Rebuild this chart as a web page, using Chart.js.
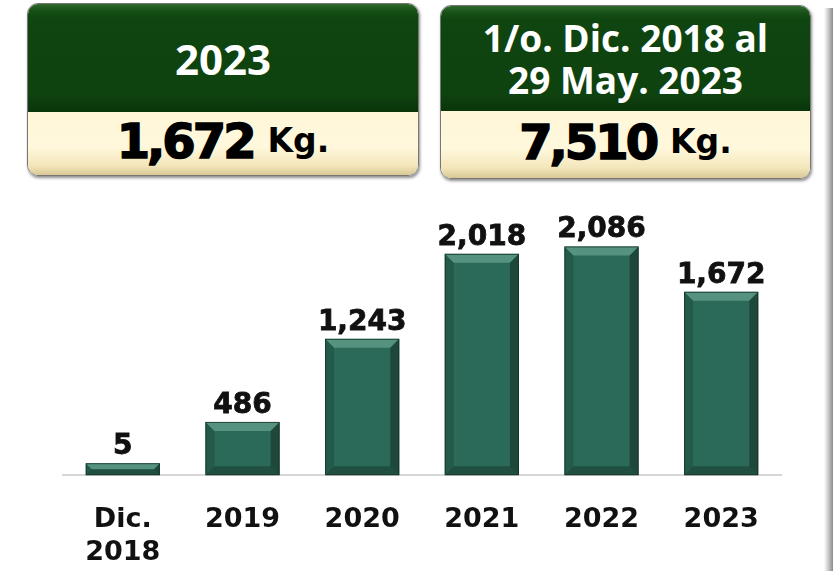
<!DOCTYPE html>
<html>
<head>
<meta charset="utf-8">
<script src="https://cdn.jsdelivr.net/npm/chart.js@4.4.1/dist/chart.umd.min.js"></script>
<style>
  body { margin: 0; width: 833px; height: 571px; background: #fff; position: relative; overflow: hidden; }
  .card { position: absolute; border-radius: 11px; overflow: hidden;
          box-shadow: 1px 2px 3px rgba(0,0,0,0.45); border: 1px solid #777; }
  .head { position: absolute; left: 0; right: 0; top: 0;
          background: linear-gradient(#2f6a2c 0px, #174f16 7px, #0f4510 14px, #0e420f 85%, #0a340b 100%);
          color: #fff; font-family: "Open Sans", sans-serif; font-weight: 700;
          display: flex; align-items: center; justify-content: center; text-align: center; }
  .foot { position: absolute; left: 0; right: 0; bottom: 0;
          background: linear-gradient(#fff6d8 0%, #fff8dc 55%, #f3e6bb 85%, #d9c894 100%);
          display: flex; align-items: center; justify-content: center; padding-bottom: 6px; box-sizing: border-box; }
  .big { font-family: "DejaVu Sans", sans-serif; font-weight: 700; font-size: 48px;
         letter-spacing: -3px; color: #000; -webkit-text-stroke: 1.5px #000; }
  .kg { font-family: "DejaVu Sans", sans-serif; font-weight: 700; font-size: 33px; color: #000; margin-left: 14px; }
  #edge { position: absolute; left: 824px; top: 8px; width: 9px; height: 563px;
          background: linear-gradient(to right, #fff, #c8c8c8 50%, #8a8a8a); }
  #wrap { position: absolute; left: 0; top: 190px; width: 833px; height: 416px; }
</style>
</head>
<body>
<div class="card" style="left:27px; top:3px; width:390px; height:171px;">
  <div class="head" style="height:108px; font-size:42px;">2023</div>
  <div class="foot" style="height:63px;"><span class="big">1,672</span><span class="kg">Kg.</span></div>
</div>
<div class="card" style="left:440px; top:5px; width:369px; height:172px;">
  <div class="head" style="height:105px; font-size:37px; line-height:42px;">1/o. Dic. 2018 al<br>29 May. 2023</div>
  <div class="foot" style="height:67px;"><span class="big">7,510</span><span class="kg">Kg.</span></div>
</div>
<div id="edge"></div>
<div id="wrap"><canvas id="chart"></canvas></div>
<script>
var categories = [["Dic.", "2018"], "2019", "2020", "2021", "2022", "2023"];
var kilos = [5, 486, 1243, 2018, 2086, 1672];
var valueLabels = ["5", "486", "1,243", "2,018", "2,086", "1,672"];

// bevel effect and value labels drawn over each bar
var barDecor = {
    id: 'barDecor',
    afterDatasetsDraw: function(chart) {
        var ctx = chart.ctx;
        var meta = chart.getDatasetMeta(0);
        meta.data.forEach(function(bar, i) {
            var p = bar.getProps(['x', 'y', 'base', 'width'], true);
            var l = p.x - p.width / 2, r = p.x + p.width / 2, t = p.y, b = p.base;
            var s = Math.min(9, (b - t) / 2);
            ctx.save();
            ctx.fillStyle = 'rgba(150,210,190,0.4)';
            ctx.beginPath();
            ctx.moveTo(l, t); ctx.lineTo(r, t); ctx.lineTo(r - s, t + s); ctx.lineTo(l + s, t + s);
            ctx.closePath(); ctx.fill();
            ctx.fillStyle = 'rgba(0,0,0,0.15)';
            ctx.beginPath();
            ctx.moveTo(l, t); ctx.lineTo(l + s, t + s); ctx.lineTo(l + s, b - s); ctx.lineTo(l, b);
            ctx.closePath(); ctx.fill();
            ctx.fillStyle = 'rgba(0,0,0,0.32)';
            ctx.beginPath();
            ctx.moveTo(r, t); ctx.lineTo(r - s, t + s); ctx.lineTo(r - s, b - s); ctx.lineTo(r, b);
            ctx.closePath(); ctx.fill();
            ctx.fillStyle = 'rgba(0,0,0,0.25)';
            ctx.beginPath();
            ctx.moveTo(l, b); ctx.lineTo(l + s, b - s); ctx.lineTo(r - s, b - s); ctx.lineTo(r, b);
            ctx.closePath(); ctx.fill();
            ctx.strokeStyle = 'rgba(20,50,40,0.8)';
            ctx.lineWidth = 1;
            ctx.strokeRect(l + 0.5, t + 0.5, p.width - 1, b - t - 1);

            ctx.fillStyle = '#111';
            ctx.strokeStyle = '#111';
            ctx.lineWidth = 0.8;
            ctx.font = 'bold 28px "DejaVu Sans"';
            ctx.textAlign = 'center';
            ctx.textBaseline = 'alphabetic';
            ctx.fillText(valueLabels[i], p.x, t - 9);
            ctx.strokeText(valueLabels[i], p.x, t - 9);
            ctx.restore();
        });
    }
};

var graph = document.getElementById("chart");
var myChart = new Chart(graph, {
    type: 'bar',
    data: {
        labels: categories,
        datasets: [{
            data: kilos,
            backgroundColor: "#2b6a58",
            barPercentage: 0.62,
            categoryPercentage: 1,
            minBarLength: 12
        }]
    },
    options: {
        responsive: true,
        maintainAspectRatio: false,
        animation: false,
        layout: { padding: { left: 63, right: 52, top: 11, bottom: 8 } },
        plugins: { legend: { display: false }, tooltip: { enabled: false } },
        scales: {
            x: {
                grid: { display: false, drawTicks: false },
                border: { display: true, color: '#d6d6d6', width: 2 },
                ticks: { color: '#111', padding: 29, font: { family: 'DejaVu Sans', weight: 'bold', size: 27 } }
            },
            y: {
                display: false,
                min: 0,
                max: 2500
            }
        }
    },
    plugins: [barDecor]
});
</script>
</body>
</html>
